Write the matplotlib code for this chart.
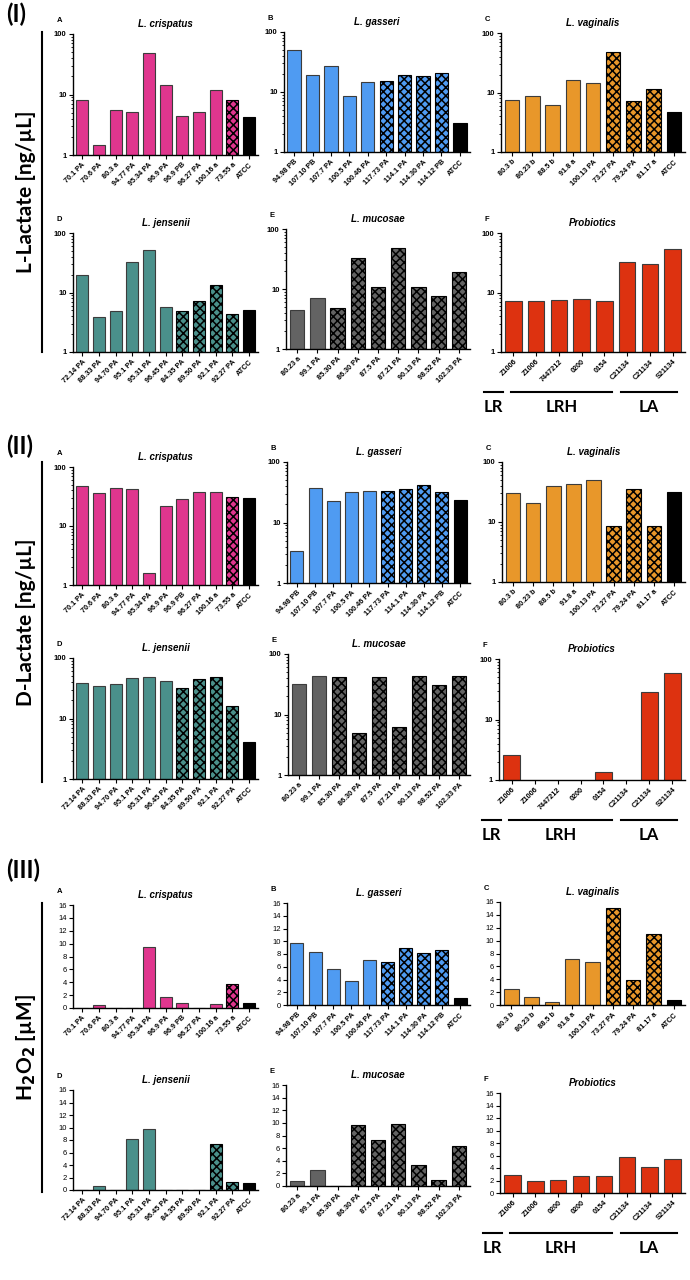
import numpy as np
import matplotlib
matplotlib.use('Agg')
import matplotlib.pyplot as plt
from matplotlib.lines import Line2D
from matplotlib.ticker import NullFormatter, LogLocator

# strain names per species
crisp_names = ['70.1 PA', '70.6 PA', '80.3 a', '94.77 PA', '95.34 PA', '96.9 PA', '96.9 PB',
               '96.27 PA', '100.16 a', '73.55 a', 'ATCC']
gass_names = ['94.98 PB', '107.10 PB', '107.7 PA', '100.5 PA', '100.46 PA', '117.73 PA',
              '114.1 PA', '114.30 PA', '114.12 PB', 'ATCC']
vag_names = ['80.3 b', '80.23 b', '88.5 b', '91.8 a', '100.13 PA', '73.27 PA', '79.24 PA',
             '81.17 a', 'ATCC']
jens_names = ['72.14 PA', '88.33 PA', '94.70 PA', '95.1 PA', '95.31 PA', '96.45 PA', '84.35 PA',
              '89.50 PA', '92.1 PA', '92.27 PA', 'ATCC']
muc_names = ['80.23 a', '99.1 PA', '85.30 PA', '86.30 PA', '87.5 PA', '87.21 PA', '90.13 PA',
             '98.52 PA', '102.33 PA']
prob_names = ['Z1006', 'Z1006', '7447212', '0200', '0154', 'C21134', 'C21134', 'S21134']
prob_names_h2o2 = ['Z1006', 'Z1006', '0200', '0200', '0154', 'C21134', 'C21134', 'S21134']
prob_groups = ['LR', 'LRH', 'LA']

# (I) L-lactate [ng/uL]
l_crisp = [8.2, 1.45, 5.6, 5.2, 48, 14.5, 4.4, 5.2, 12, 8.0, 4.2]
l_gass = [50, 19.5, 27, 8.7, 14.7, 15, 19.5, 18.5, 21, 3.0]
l_vag = [7.5, 8.8, 6.2, 16.5, 14.3, 48, 7.2, 11.3, 4.7]
l_jens = [19.5, 3.9, 4.8, 32, 51, 5.6, 4.8, 7.2, 13.5, 4.4, 5.1]
l_muc = [4.4, 7.0, 4.9, 33, 10.8, 48, 10.6, 7.5, 19]
l_prob = [7.3, 7.1, 7.5, 7.8, 7.1, 33, 30, 53]

# (II) D-lactate [ng/uL]  (0 = not detected)
d_crisp = [48, 36, 44, 42, 1.6, 22, 29, 37, 37, 31, 30]
d_gass = [3.4, 37, 22.5, 32, 33.5, 33, 36, 41, 32, 23.5]
d_vag = [31, 21, 40, 43, 50, 8.6, 35, 8.6, 32]
d_jens = [39, 34, 37, 46, 49, 41, 32, 45, 49, 16, 4.1]
d_muc = [32, 43, 42, 5.0, 42, 6.2, 43, 31, 43]
d_prob = [2.6, 0, 0, 0, 1.35, 0, 29, 58]

# (III) H2O2 [uM]
h_crisp = [0, 0.4, 0, 0, 9.5, 1.7, 0.7, 0, 0.6, 3.8, 0.8]
h_gass = [9.8, 8.3, 5.7, 3.7, 7.1, 6.8, 9.0, 8.1, 8.7, 1.1]
h_vag = [2.5, 1.2, 0.4, 7.2, 6.7, 15.0, 3.9, 11.0, 0.8]
h_jens = [0, 0.7, 0, 8.1, 9.8, 0, 0, 0, 7.3, 1.3, 1.2]
h_muc = [0.8, 2.5, 0, 9.7, 7.3, 9.8, 3.3, 1.0, 6.4]
h_prob = [2.9, 1.9, 2.1, 2.7, 2.8, 5.8, 4.1, 5.4]

W, H = 690, 1280
fig = plt.figure(figsize=(W / 100, H / 100), dpi=100)
plt.rcParams['font.family'] = ['Liberation Sans', 'DejaVu Sans']
plt.rcParams['hatch.linewidth'] = 1.1
plt.rcParams['hatch.color'] = 'black'

BIG = ['Lato', 'DejaVu Sans']

# species: letter, title, names, colour, n plain, n checker, ATCC
species = [
    ('A', 'L. crispatus', crisp_names, '#e0368e', 9, 1, True),
    ('B', 'L. gasseri', gass_names, '#4f9bf2', 5, 4, True),
    ('C', 'L. vaginalis', vag_names, '#e8972a', 5, 3, True),
    ('D', 'L. jensenii', jens_names, '#4a908b', 6, 4, True),
    ('E', 'L. mucosae', muc_names, '#636363', 2, 7, False),
    ('F', 'Probiotics', prob_names, '#dd3210', 8, 0, False),
]

# axes boxes in pixels (left, top, right, bottom)
boxes = {
    1: [(73, 34, 258, 155), (284, 32, 470, 152), (501, 33, 685, 152),
        (73, 233, 258, 352), (286, 229, 470, 349), (501, 233, 685, 352)],
    2: [(73, 467, 258, 585), (287, 462, 470, 583), (502, 462, 685, 582),
        (73, 658, 258, 779), (288, 654, 470, 775), (499, 659, 685, 780)],
    3: [(73, 905, 258, 1008), (287, 903, 470, 1005), (500, 902, 685, 1005),
        (73, 1090, 258, 1190), (286, 1085, 470, 1186), (500, 1093, 685, 1193)],
}
section_vals = {
    1: [l_crisp, l_gass, l_vag, l_jens, l_muc, l_prob],
    2: [d_crisp, d_gass, d_vag, d_jens, d_muc, d_prob],
    3: [h_crisp, h_gass, h_vag, h_jens, h_muc, h_prob],
}
group_lines = [(-1.3, -0.45), (-0.1, 4.35), (4.75, 7.2)]


def draw(box, sp, vals, log, sec):
    letter, title, names, col, n_plain, n_check, atcc = sp
    if sec == 3 and letter == 'F':
        names = prob_names_h2o2
    l, t, r, b = box
    h = b - t
    ax = fig.add_axes([l / W, 1 - b / H, (r - l) / W, h / H])
    x = np.arange(len(names))
    v = np.array(vals, dtype=float)
    if log:
        ax.set_yscale('log')
        v = np.where(v > 0, v, np.nan)
    bars = ax.bar(x, v, width=0.72, color=col, edgecolor='#3c3c3c', linewidth=0.8)
    for i, bar in enumerate(bars):
        if n_plain <= i < n_plain + n_check:
            bar.set_hatch('xxxx')
            bar.set_edgecolor('black')
        elif atcc and i == len(names) - 1:
            bar.set_facecolor('black')
            bar.set_edgecolor('black')
    ax.set_xlim(-0.55, len(names) - 0.45)
    ax.set_xticks(x, names, rotation=45, ha='right', rotation_mode='anchor',
                  fontsize=5.2, fontweight='bold')
    if log:
        ax.set_ylim(1, 100)
        ax.set_yticks([1, 10, 100], ['1', '10', '100'], fontsize=5.5, fontweight='bold')
        ax.yaxis.set_minor_locator(LogLocator(base=10, subs=np.arange(2, 10)))
        ax.yaxis.set_minor_formatter(NullFormatter())
    else:
        ax.set_ylim(0, 16)
        ax.set_yticks(np.arange(0, 17, 2))
        ax.tick_params(axis='y', labelsize=5.5)
    for s in ['top', 'right']:
        ax.spines[s].set_visible(False)
    for s in ['left', 'bottom']:
        ax.spines[s].set_linewidth(1.0)
    ax.tick_params(which='major', length=3, width=0.8, pad=1.5)
    ax.tick_params(which='minor', length=1.8, width=0.6)
    ax.set_title(title, fontsize=7, fontweight='bold', style='italic', pad=5)
    ax.annotate(letter, xy=(0, 1), xycoords='axes fraction', xytext=(-10, 7),
                textcoords='offset points', fontsize=5.5, fontweight='bold',
                ha='center', va='bottom')
    if letter == 'F':
        tr = ax.get_xaxis_transform()
        yl = -40 / h
        yt = -55 / h
        for g, (x0, x1) in zip(prob_groups, group_lines):
            ax.plot([x0, x1], [yl, yl], color='black', lw=1.5, transform=tr, clip_on=False)
            ax.text((x0 + x1) / 2, yt, g, transform=tr, ha='center', va='center',
                    fontsize=12, fontweight='bold', family=BIG)
    return ax


for sec in (1, 2, 3):
    for box, sp, vals in zip(boxes[sec], species, section_vals[sec]):
        draw(box, sp, vals, sec < 3, sec)

# section headers and side labels
for txt, y in [('(I)', 14), ('(II)', 446), ('(III)', 870)]:
    fig.text(6 / W, 1 - y / H, txt, fontsize=17, fontweight='bold', family=BIG,
             ha='left', va='center')
side = [('L-Lactate [ng/µL]', 32, 352), ('D-Lactate [ng/µL]', 462, 782),
        ('H$_\\mathbf{2}$O$_\\mathbf{2}$ [µM]', 903, 1192)]
for txt, y0, y1 in side:
    fig.text(26 / W, 1 - (y0 + y1) / 2 / H, txt, rotation=90, fontsize=15, fontweight='bold',
             family=BIG, ha='center', va='center')
    fig.add_artist(Line2D([42 / W, 42 / W], [1 - y0 / H, 1 - y1 / H], color='black', lw=1.5))

fig.savefig('out.png', dpi=100)
